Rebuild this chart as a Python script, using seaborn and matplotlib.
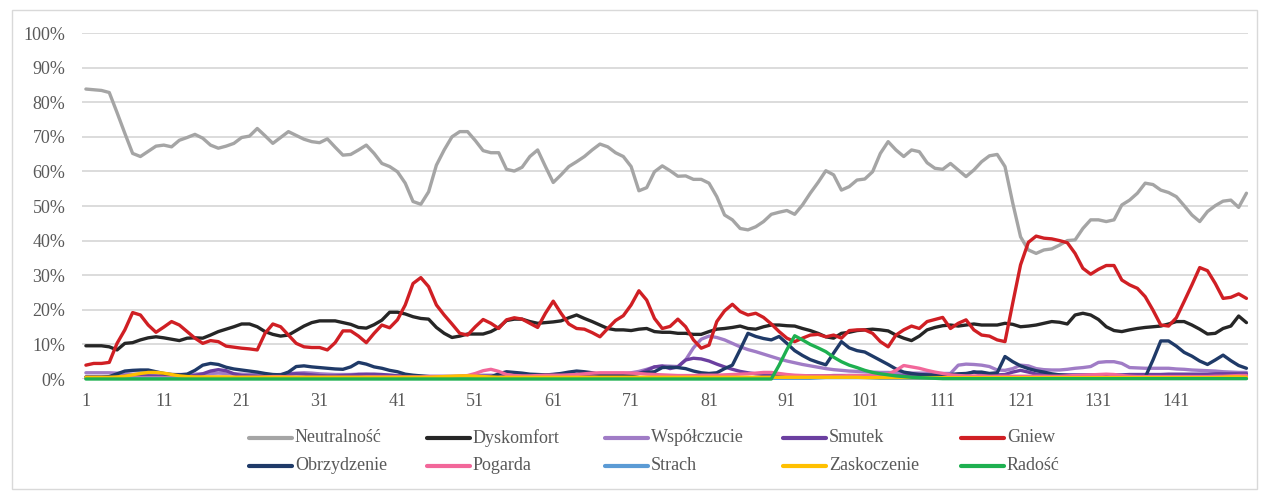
import matplotlib
matplotlib.use('Agg')
import matplotlib.pyplot as plt
import pandas as pd
import seaborn as sns
from matplotlib.lines import Line2D
from matplotlib.patches import Rectangle
from matplotlib.ticker import PercentFormatter

series_names = ['Neutralność', 'Dyskomfort', 'Współczucie', 'Smutek', 'Gniew',
                'Obrzydzenie', 'Pogarda', 'Strach', 'Zaskoczenie', 'Radość']
colors = ['#A5A5A5', '#262626', '#A07CC6', '#6B3FA0', '#D01F24',
          '#1F3A68', '#F2679A', '#5B9BD5', '#FFC000', '#1EB050']
x_ticks = [1, 11, 21, 31, 41, 51, 61, 71, 81, 91, 101, 111, 121, 131, 141]

# values in percent, one per fragment (1..150)
neutralnosc = [
    83.8, 83.6, 83.4, 82.8, 77.0, 71.0, 65.2, 64.3, 65.8, 67.3,
    67.6, 67.1, 69.0, 69.8, 70.7, 69.6, 67.6, 66.7, 67.3, 68.1,
    69.8, 70.2, 72.4, 70.3, 68.1, 69.8, 71.5, 70.4, 69.3, 68.6,
    68.3, 69.4, 67.0, 64.7, 64.9, 66.2, 67.6, 65.2, 62.3, 61.4,
    59.9, 56.6, 51.3, 50.5, 54.1, 61.8, 66.2, 70.0, 71.5, 71.5,
    68.9, 66.0, 65.4, 65.4, 60.6, 60.1, 61.2, 64.3, 66.2, 61.4,
    56.8, 59.0, 61.4, 62.8, 64.3, 66.2, 67.9, 67.1, 65.4, 64.3,
    61.4, 54.4, 55.3, 59.9, 61.6, 60.2, 58.6, 58.7, 57.7, 57.7,
    56.6, 52.7, 47.4, 46.0, 43.5, 43.1, 44.0, 45.5, 47.6, 48.2,
    48.7, 47.6, 50.3, 53.7, 56.8, 60.2, 59.0, 54.6, 55.6, 57.5,
    57.8, 59.9, 65.2, 68.6, 66.2, 64.3, 66.2, 65.7, 62.5, 60.9,
    60.6, 62.3, 60.4, 58.5, 60.4, 62.8, 64.5, 64.9, 61.4, 50.8,
    41.1, 37.3, 36.3, 37.3, 37.6, 38.7, 40.0, 40.2, 43.5, 46.0,
    46.0, 45.5, 46.0, 50.3, 51.7, 53.7, 56.6, 56.2, 54.6, 53.9,
    52.7, 50.1, 47.4, 45.5, 48.4, 50.1, 51.4, 51.7, 49.6, 53.7,
]
dyskomfort = [
    9.6, 9.6, 9.6, 9.3, 8.4, 10.3, 10.5, 11.3, 11.9, 12.2,
    11.9, 11.5, 11.1, 11.8, 11.9, 11.8, 12.7, 13.7, 14.4, 15.1,
    15.9, 15.9, 15.1, 13.7, 12.9, 12.4, 12.7, 14.0, 15.3, 16.3,
    16.8, 16.8, 16.8, 16.3, 15.8, 14.9, 14.7, 15.7, 17.0, 19.3,
    19.3, 18.8, 18.0, 17.5, 17.3, 14.9, 13.2, 12.0, 12.4, 13.0,
    13.0, 13.0, 13.7, 14.9, 16.9, 17.3, 17.3, 16.6, 16.1, 16.3,
    16.5, 16.8, 17.7, 18.5, 17.5, 16.6, 15.6, 14.6, 14.2, 14.2,
    14.0, 14.4, 14.6, 13.7, 13.5, 13.5, 13.2, 13.2, 12.9, 12.9,
    13.7, 14.4, 14.6, 14.9, 15.3, 14.6, 14.4, 15.1, 15.6, 15.6,
    15.4, 15.3, 14.6, 14.0, 13.2, 12.2, 11.8, 13.2, 13.5, 14.0,
    14.2, 14.4, 14.2, 13.9, 12.7, 11.8, 11.1, 12.4, 14.2, 14.9,
    15.4, 15.6, 15.3, 15.6, 15.9, 15.6, 15.6, 15.6, 16.1, 15.8,
    15.1, 15.3, 15.6, 16.1, 16.6, 16.4, 15.9, 18.5, 19.0, 18.5,
    17.2, 15.1, 14.0, 13.7, 14.2, 14.6, 14.9, 15.1, 15.3, 15.9,
    16.6, 16.6, 15.6, 14.4, 13.0, 13.2, 14.6, 15.3, 18.2, 16.3,
]
wspolczucie = [
    1.8, 1.8, 1.8, 1.8, 1.7, 1.5, 1.4, 1.4, 1.3, 1.3,
    1.3, 1.3, 1.3, 1.3, 1.4, 1.5, 1.6, 1.7, 1.6, 1.5,
    1.4, 1.3, 1.3, 1.2, 1.2, 1.3, 1.5, 1.7, 1.8, 1.7,
    1.5, 1.4, 1.3, 1.3, 1.3, 1.4, 1.3, 1.2, 1.2, 1.1,
    1.0, 0.9, 0.9, 0.8, 0.8, 0.8, 0.8, 0.8, 0.8, 0.9,
    1.0, 1.1, 1.1, 1.0, 1.0, 0.9, 0.9, 1.0, 1.1, 1.2,
    1.3, 1.3, 1.3, 1.2, 1.2, 1.2, 1.3, 1.4, 1.5, 1.6,
    1.8, 2.2, 2.8, 3.5, 3.8, 3.7, 3.6, 5.5, 9.0, 11.5,
    12.4, 12.0, 11.3, 10.3, 9.3, 8.5, 7.9, 7.2, 6.5, 5.8,
    5.2, 4.7, 4.2, 3.8, 3.4, 3.0, 2.7, 2.5, 2.3, 2.2,
    2.1, 2.0, 1.9, 1.9, 1.8, 1.8, 1.7, 1.7, 1.7, 1.6,
    1.6, 1.6, 4.0, 4.3, 4.2, 4.0, 3.6, 2.6, 2.5, 3.0,
    4.0, 3.8, 3.0, 2.7, 2.6, 2.6, 2.8, 3.1, 3.3, 3.6,
    4.8, 5.0, 5.0, 4.5, 3.3, 3.2, 3.1, 3.1, 3.1, 3.1,
    2.9, 2.8, 2.6, 2.5, 2.4, 2.3, 2.1, 2.0, 1.9, 1.9,
]
smutek = [
    0.6, 0.6, 0.6, 0.6, 0.7, 0.8, 0.8, 0.9, 0.9, 0.8,
    0.8, 0.7, 0.7, 0.8, 1.0, 1.5, 2.3, 2.7, 2.4, 1.5,
    1.0, 0.9, 0.8, 0.8, 0.9, 1.1, 1.4, 1.5, 1.4, 1.2,
    1.0, 0.9, 0.9, 1.0, 1.1, 1.3, 1.4, 1.4, 1.3, 1.1,
    0.9, 0.8, 0.7, 0.7, 0.6, 0.6, 0.6, 0.6, 0.7, 0.7,
    0.7, 0.8, 0.8, 0.8, 0.9, 0.9, 0.9, 1.0, 1.1, 1.2,
    1.3, 1.4, 1.3, 1.2, 1.0, 0.9, 0.9, 0.9, 1.0, 1.1,
    1.3, 1.6, 2.5, 3.5, 3.7, 3.0, 3.5, 5.5, 6.0, 5.8,
    5.2, 4.3, 3.5, 2.8, 2.2, 1.8, 1.5, 1.3, 1.1, 1.0,
    1.0, 0.9, 0.9, 0.9, 0.9, 0.9, 1.0, 1.0, 1.0, 1.0,
    1.0, 1.0, 1.0, 0.9, 0.9, 0.9, 1.0, 1.0, 1.1, 1.1,
    1.2, 1.2, 1.3, 1.3, 2.1, 1.3, 1.2, 1.2, 1.3, 2.0,
    2.5, 2.0, 1.4, 1.3, 1.2, 1.2, 1.2, 1.2, 1.2, 1.2,
    1.2, 1.2, 1.2, 1.2, 1.3, 1.3, 1.3, 1.3, 1.3, 1.4,
    1.4, 1.4, 1.4, 1.4, 1.4, 1.5, 1.5, 1.5, 1.5, 1.5,
]
gniew = [
    4.0, 4.5, 4.5, 4.8, 10.3, 14.2, 19.2, 18.5, 15.6, 13.5,
    15.0, 16.6, 15.6, 13.7, 11.8, 10.3, 11.1, 10.8, 9.5, 9.2,
    8.9, 8.7, 8.4, 13.2, 15.9, 15.1, 12.7, 10.3, 9.3, 9.1,
    9.1, 8.4, 10.5, 13.9, 13.9, 12.4, 10.5, 13.2, 15.6, 14.8,
    17.1, 21.4, 27.6, 29.3, 26.7, 21.4, 18.5, 15.9, 13.2, 12.7,
    15.1, 17.2, 16.1, 14.6, 17.1, 17.7, 17.3, 16.1, 14.9, 19.0,
    22.5, 19.0, 15.9, 14.6, 14.4, 13.4, 12.2, 14.6, 16.9, 18.3,
    21.4, 25.5, 22.8, 17.5, 14.6, 15.2, 17.3, 15.1, 11.3, 8.9,
    9.8, 16.6, 19.7, 21.6, 19.5, 18.5, 19.0, 17.8, 15.9, 13.7,
    11.8, 10.8, 11.8, 12.7, 12.9, 12.2, 12.7, 11.8, 14.0, 14.2,
    14.2, 13.2, 10.8, 9.3, 12.7, 14.2, 15.3, 14.6, 16.6, 17.2,
    17.8, 14.6, 16.1, 17.1, 14.2, 12.7, 12.4, 11.3, 10.8, 22.0,
    33.0, 39.5, 41.3, 40.7, 40.5, 40.0, 39.4, 36.3, 32.0, 30.3,
    31.7, 32.8, 32.8, 28.6, 27.2, 26.2, 23.8, 19.9, 15.6, 15.3,
    17.7, 22.4, 27.2, 32.2, 31.3, 27.6, 23.3, 23.6, 24.6, 23.3,
]
obrzydzenie = [
    0.5, 0.5, 0.5, 0.7, 1.5, 2.3, 2.5, 2.6, 2.6, 2.1,
    1.6, 1.3, 1.2, 1.4, 2.5, 4.0, 4.5, 4.2, 3.4, 2.9,
    2.6, 2.3, 2.0, 1.6, 1.3, 1.2, 2.0, 3.6, 3.8, 3.5,
    3.3, 3.1, 2.9, 2.8, 3.5, 4.8, 4.3, 3.5, 3.1, 2.5,
    2.1, 1.4, 1.1, 0.9, 0.7, 0.5, 0.5, 0.5, 0.5, 0.5,
    0.5, 0.5, 0.6, 1.5, 2.1, 1.9, 1.7, 1.4, 1.3, 1.2,
    1.3, 1.6, 2.0, 2.3, 2.1, 1.8, 1.3, 1.2, 1.2, 1.2,
    1.3, 1.6, 1.9, 2.1, 3.3, 3.4, 3.3, 3.0, 2.3, 1.8,
    1.6, 1.8, 3.0, 4.0, 8.5, 13.2, 12.3, 11.7, 11.3, 12.3,
    10.3, 8.2, 6.8, 5.6, 4.8, 4.1, 7.5, 10.8, 9.0, 8.2,
    7.8, 6.6, 5.4, 4.2, 2.9, 2.0, 1.6, 1.3, 1.2, 1.1,
    1.2, 1.3, 1.5, 1.6, 2.0, 2.0, 1.6, 1.8, 6.5, 5.0,
    3.8, 3.0, 2.4, 2.0, 1.5, 1.2, 1.0, 0.8, 0.6, 0.5,
    0.5, 0.5, 0.5, 0.5, 0.5, 0.5, 0.5, 5.5, 11.0, 11.0,
    9.5, 7.7, 6.6, 5.2, 4.2, 5.5, 6.9, 5.3, 3.9, 3.1,
]
pogarda = [
    0.3, 0.3, 0.3, 0.3, 0.3, 0.3, 0.4, 0.4, 0.4, 0.4,
    0.4, 0.4, 0.4, 0.4, 0.5, 0.5, 0.5, 0.5, 0.5, 0.5,
    0.5, 0.5, 0.5, 0.6, 0.7, 0.7, 0.6, 0.5, 0.5, 0.5,
    0.5, 0.5, 0.5, 0.5, 0.5, 0.5, 0.6, 0.6, 0.6, 0.6,
    0.6, 0.6, 0.6, 0.6, 0.7, 0.7, 0.7, 0.7, 0.8, 1.0,
    1.6, 2.4, 2.8, 2.2, 1.3, 1.0, 0.9, 0.9, 1.0, 1.1,
    1.1, 1.1, 1.2, 1.3, 1.5, 1.7, 1.8, 1.8, 1.8, 1.8,
    1.7, 1.6, 1.4, 1.3, 1.2, 1.1, 1.0, 1.0, 1.0, 1.1,
    1.1, 1.1, 1.2, 1.3, 1.4, 1.5, 1.7, 1.9, 1.9, 1.6,
    1.3, 1.1, 1.0, 0.9, 0.9, 0.9, 0.9, 0.9, 1.0, 1.0,
    1.0, 1.1, 1.2, 1.4, 2.5, 3.9, 3.5, 3.1, 2.5, 2.0,
    1.6, 1.2, 1.0, 0.9, 0.9, 0.9, 0.8, 0.8, 0.8, 0.8,
    0.8, 0.8, 0.8, 0.8, 0.8, 0.8, 0.9, 1.0, 1.1, 1.2,
    1.3, 1.4, 1.3, 1.0, 0.8, 0.7, 0.7, 0.7, 0.7, 0.7,
    0.7, 0.7, 0.7, 0.7, 0.7, 0.8, 0.8, 0.9, 1.0, 1.0,
]
strach = [
    0.2, 0.2, 0.2, 0.2, 0.2, 0.2, 0.2, 0.2, 0.2, 0.2,
    0.2, 0.2, 0.2, 0.2, 0.2, 0.2, 0.2, 0.2, 0.2, 0.2,
    0.2, 0.2, 0.2, 0.2, 0.2, 0.2, 0.2, 0.2, 0.2, 0.2,
    0.2, 0.2, 0.2, 0.2, 0.2, 0.2, 0.2, 0.2, 0.2, 0.2,
    0.2, 0.2, 0.2, 0.2, 0.2, 0.2, 0.2, 0.2, 0.2, 0.2,
    0.2, 0.2, 0.2, 0.2, 0.2, 0.2, 0.2, 0.2, 0.2, 0.2,
    0.2, 0.2, 0.2, 0.2, 0.2, 0.2, 0.2, 0.2, 0.2, 0.2,
    0.2, 0.2, 0.2, 0.2, 0.2, 0.2, 0.2, 0.2, 0.2, 0.2,
    0.2, 0.2, 0.2, 0.2, 0.2, 0.2, 0.2, 0.2, 0.2, 0.2,
    0.2, 0.2, 0.2, 0.2, 0.3, 0.4, 0.4, 0.4, 0.4, 0.4,
    0.4, 0.3, 0.2, 0.2, 0.2, 0.2, 0.2, 0.2, 0.2, 0.2,
    0.2, 0.2, 0.2, 0.2, 0.2, 0.2, 0.2, 0.2, 0.2, 0.2,
    0.2, 0.2, 0.2, 0.2, 0.2, 0.2, 0.2, 0.2, 0.2, 0.2,
    0.2, 0.2, 0.2, 0.2, 0.2, 0.2, 0.2, 0.2, 0.2, 0.2,
    0.2, 0.2, 0.2, 0.2, 0.2, 0.2, 0.2, 0.2, 0.2, 0.2,
]
zaskoczenie = [
    0.5, 0.5, 0.5, 0.5, 0.6, 0.8, 1.2, 1.6, 1.9, 1.9,
    1.7, 1.3, 0.9, 0.7, 0.6, 0.6, 0.6, 0.6, 0.6, 0.5,
    0.5, 0.5, 0.5, 0.5, 0.5, 0.5, 0.5, 0.5, 0.5, 0.5,
    0.5, 0.5, 0.5, 0.5, 0.5, 0.5, 0.5, 0.5, 0.5, 0.5,
    0.5, 0.5, 0.5, 0.5, 0.5, 0.6, 0.7, 0.8, 0.9, 0.9,
    0.8, 0.7, 0.6, 0.5, 0.5, 0.5, 0.5, 0.5, 0.5, 0.5,
    0.5, 0.5, 0.5, 0.5, 0.5, 0.5, 0.5, 0.5, 0.5, 0.5,
    0.5, 0.5, 0.5, 0.5, 0.5, 0.5, 0.5, 0.5, 0.5, 0.5,
    0.5, 0.5, 0.5, 0.5, 0.5, 0.5, 0.5, 0.5, 0.5, 0.5,
    0.5, 0.5, 0.5, 0.5, 0.5, 0.5, 0.5, 0.5, 0.5, 0.5,
    0.4, 0.4, 0.4, 0.4, 0.4, 0.4, 0.4, 0.4, 0.4, 0.4,
    0.4, 0.4, 0.4, 0.4, 0.4, 0.4, 0.4, 0.4, 0.4, 0.4,
    0.4, 0.4, 0.4, 0.4, 0.4, 0.4, 0.4, 0.4, 0.4, 0.4,
    0.4, 0.4, 0.4, 0.4, 0.4, 0.4, 0.4, 0.4, 0.4, 0.4,
    0.4, 0.4, 0.4, 0.4, 0.4, 0.4, 0.5, 0.6, 0.6, 0.5,
]
radosc = [
    0.0, 0.0, 0.0, 0.0, 0.0, 0.0, 0.0, 0.0, 0.0, 0.0,
    0.0, 0.0, 0.0, 0.0, 0.0, 0.0, 0.0, 0.0, 0.0, 0.0,
    0.0, 0.0, 0.0, 0.0, 0.0, 0.0, 0.0, 0.0, 0.0, 0.0,
    0.0, 0.0, 0.0, 0.0, 0.0, 0.0, 0.0, 0.0, 0.0, 0.0,
    0.0, 0.0, 0.0, 0.0, 0.0, 0.0, 0.0, 0.0, 0.0, 0.0,
    0.0, 0.0, 0.0, 0.0, 0.0, 0.0, 0.0, 0.0, 0.0, 0.0,
    0.0, 0.0, 0.0, 0.0, 0.0, 0.0, 0.0, 0.0, 0.0, 0.0,
    0.0, 0.0, 0.0, 0.0, 0.0, 0.0, 0.0, 0.0, 0.0, 0.0,
    0.0, 0.0, 0.0, 0.0, 0.0, 0.0, 0.0, 0.0, 0.0, 4.0,
    8.5, 12.5, 11.3, 10.0, 9.0, 7.9, 6.3, 5.0, 4.0, 3.3,
    2.5, 1.9, 1.5, 1.2, 0.9, 0.7, 0.5, 0.4, 0.3, 0.2,
    0.1, 0.1, 0.1, 0.1, 0.1, 0.1, 0.1, 0.1, 0.1, 0.1,
    0.1, 0.1, 0.1, 0.1, 0.1, 0.1, 0.1, 0.1, 0.1, 0.1,
    0.1, 0.1, 0.1, 0.1, 0.1, 0.1, 0.1, 0.1, 0.1, 0.1,
    0.1, 0.1, 0.1, 0.1, 0.1, 0.1, 0.1, 0.1, 0.1, 0.1,
]

all_series = [neutralnosc, dyskomfort, wspolczucie, smutek, gniew,
              obrzydzenie, pogarda, strach, zaskoczenie, radosc]

frag = list(range(1, len(neutralnosc) + 1))
df = pd.DataFrame({name: vals for name, vals in zip(series_names, all_series)})
df['frag'] = frag
long = df.melt(id_vars='frag', var_name='emocja', value_name='value')
long['value'] = long['value'] / 100

sns.set_theme(style='white')
plt.rcParams['font.family'] = ['Liberation Serif', 'DejaVu Serif']
text_color = '#595959'

fig = plt.figure(figsize=(12.67, 4.91), dpi=100)
ax = fig.add_axes([82 / 1267, 1 - 379 / 491, (1248 - 82) / 1267, 346 / 491])

sns.lineplot(data=long, x='frag', y='value', hue='emocja', hue_order=series_names,
             palette=colors, linewidth=2.4, ax=ax, legend=False)
for ln in ax.lines:
    ln.set_clip_on(False)
    ln.set_solid_joinstyle('round')

ax.set_xlim(0.5, 150.2)
ax.set_ylim(0, 1.0)
ax.set_yticks([i / 10 for i in range(11)])
ax.yaxis.set_major_formatter(PercentFormatter(1, decimals=0))
ax.set_xticks(x_ticks)
ax.set_xlabel('')
ax.set_ylabel('')
ax.yaxis.grid(True, color='#D9D9D9', linewidth=1.3)
ax.xaxis.grid(False)
ax.set_axisbelow(True)
for s in ax.spines.values():
    s.set_visible(False)
ax.tick_params(axis='both', length=0, labelsize=13, labelcolor=text_color)
ax.tick_params(axis='y', pad=12)
ax.tick_params(axis='x', pad=10)

# legend, two rows of five as in the Excel original
col_x = [249, 427, 605, 783, 961]
row_y = [438, 466]
for k, (name, col) in enumerate(zip(series_names, colors)):
    cx = col_x[k % 5]
    cy = row_y[k // 5]
    fig.add_artist(Line2D([cx / 1267, (cx + 43) / 1267], [1 - cy / 491, 1 - cy / 491],
                          color=col, linewidth=3, transform=fig.transFigure))
    fig.text((cx + 46) / 1267, 1 - cy / 491, name, fontsize=13, color=text_color,
             va='center', ha='left')

fig.add_artist(Rectangle((12 / 1267, 2 / 491), 1245 / 1267, 479 / 491, fill=False,
                         edgecolor='#D9D9D9', linewidth=1, transform=fig.transFigure))

fig.savefig('out.png', dpi=100)
